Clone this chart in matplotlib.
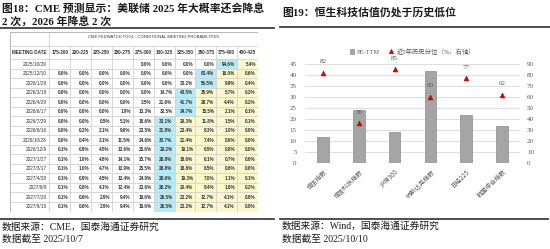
import numpy as np
import matplotlib
matplotlib.use('Agg')
import matplotlib.pyplot as plt
from matplotlib.patches import Rectangle
from matplotlib.lines import Line2D

plt.rcParams['font.family'] = ['Liberation Serif', 'Noto Sans CJK SC', 'DejaVu Sans']

# ---- left: CME FedWatch table ----
meeting_dates = ['2025/10/29', '2025/12/10', '2026/1/28', '2026/3/18', '2026/4/29', '2026/6/17',
                 '2026/7/29', '2026/9/16', '2026/10/28', '2026/12/9', '2027/1/27', '2027/3/17',
                 '2027/4/28', '2027/6/9', '2027/7/28', '2027/9/15']
rate_ranges = ['175-200', '200-225', '225-250', '250-275', '275-300',
               '300-325', '325-350', '350-375', '375-400', '400-425']
probs = [
    [None, None, None, None, 0.0, 0.0, 0.0, 0.0, 94.6, 5.4],
    [0.0, 0.0, 0.0, 0.0, 0.0, 0.0, 0.0, 83.4, 16.0, 0.6],
    [0.0, 0.0, 0.0, 0.0, 0.0, 0.0, 33.2, 56.5, 9.9, 0.4],
    [0.0, 0.0, 0.0, 0.0, 0.0, 14.7, 43.5, 35.9, 5.7, 0.2],
    [0.0, 0.0, 0.0, 0.0, 3.5, 21.6, 41.7, 28.7, 4.4, 0.2],
    [0.0, 0.0, 0.0, 1.9, 13.3, 32.5, 34.7, 15.5, 2.1, 0.1],
    [0.0, 0.0, 0.5, 5.1, 18.6, 33.1, 29.3, 11.8, 1.5, 0.1],
    [0.0, 0.2, 2.1, 9.6, 23.5, 31.8, 23.4, 8.3, 1.0, 0.0],
    [0.0, 0.4, 3.1, 11.5, 24.6, 30.7, 21.4, 7.4, 0.9, 0.0],
    [0.1, 0.9, 4.5, 13.6, 25.6, 29.2, 19.1, 6.5, 0.8, 0.0],
    [0.1, 1.0, 4.8, 14.1, 25.7, 28.8, 18.6, 6.1, 0.7, 0.0],
    [0.1, 1.0, 4.7, 13.9, 25.5, 28.8, 18.8, 6.5, 0.8, 0.0],
    [0.1, 0.9, 4.5, 13.4, 24.9, 28.6, 19.3, 7.0, 1.1, 0.1],
    [0.1, 0.8, 4.1, 12.4, 23.6, 28.2, 20.4, 8.4, 1.8, 0.2],
    [0.1, 0.6, 2.9, 9.4, 19.6, 26.5, 23.2, 12.7, 4.1, 0.8],
    [0.1, 0.6, 2.9, 9.4, 19.6, 26.5, 23.2, 12.7, 4.1, 0.8],
]

# ---- right: valuation chart ----
indices = ['恒生指数', '恒生科技指数', '沪深300', '纳斯达克指数', '日经225', '韩国综合指数']
pe_ttm = [12, 24, 14, 42, 22, 17]
pct_5y = [82, 36, 85, 60, 77, 62]

W, H = 550, 249
def fx(x): return x / W
def fy(y): return 1 - y / H

fig = plt.figure(figsize=(5.5, 2.49), dpi=100)
cjk = ['Liberation Serif', 'Noto Sans CJK SC']

# titles and rules
fig.text(fx(2), fy(8.5), '图18：CME 预测显示：美联储 2025 年大概率还会降息', fontsize=7.8, fontweight='bold',
         family=cjk, va='center', ha='left', color='#1a1a1a')
fig.text(fx(2), fy(21.5), '2 次，2026 年降息 2 次', fontsize=7.8, fontweight='bold',
         family=cjk, va='center', ha='left', color='#1a1a1a')
fig.text(fx(282), fy(13), '图19：恒生科技估值仍处于历史低位', fontsize=7.8, fontweight='bold',
         family=cjk, va='center', ha='left', color='#1a1a1a')
for (x0, x1, y) in [(0, 274, 28.5), (280, 550, 27), (0, 274, 219), (280, 548, 219)]:
    fig.add_artist(Line2D([fx(x0), fx(x1)], [fy(y), fy(y)], color='#404040', lw=1.3))
fig.text(fx(2), fy(227), '数据来源：CME，国泰海通证券研究', fontsize=7, family=cjk, va='center', color='#1a1a1a')
fig.text(fx(2), fy(239.5), '数据截至 2025/10/7', fontsize=7, family=cjk, va='center', color='#1a1a1a')
fig.text(fx(282), fy(226.5), '数据来源：Wind，国泰海通证券研究', fontsize=7, family=cjk, va='center', color='#1a1a1a')
fig.text(fx(282), fy(239), '数据截至 2025/10/10', fontsize=7, family=cjk, va='center', color='#1a1a1a')

# table
ax_t = fig.add_axes([fx(10), fy(211.5), 248 / W, 179.8 / H])
ncol = len(rate_ranges)
nrow = len(meeting_dates)
date_w = 1.89
ax_t.set_xlim(-date_w, ncol)
ax_t.set_ylim(nrow, -2.9)
ax_t.axis('off')
grid_c = '#d0d0d0'
txt_c = '#333333'
blue = '#b5eaf6'
yellow = '#fbf8cb'
tf = 'Liberation Sans'

ax_t.add_patch(Rectangle((-date_w, -2.9), date_w, 1.5, fc='white', ec=grid_c, lw=0.5))
ax_t.add_patch(Rectangle((0, -2.9), ncol, 1.5, fc='white', ec=grid_c, lw=0.5))
ax_t.text(ncol / 2, -2.35, 'CME FEDWATCH TOOL - CONDITIONAL MEETING PROBABILITIES', ha='center', va='center',
          fontsize=3.0, family=tf, color=txt_c)
ax_t.add_patch(Rectangle((-date_w, -1.4), date_w, 1.4, fc='white', ec=grid_c, lw=0.5))
ax_t.text(-date_w / 2, -0.7, 'MEETING DATE', ha='center', va='center', fontsize=3.3, family=tf,
          fontweight='bold', color=txt_c)
for c, lab in enumerate(rate_ranges):
    ax_t.add_patch(Rectangle((c, -1.4), 1, 1.4, fc='white', ec=grid_c, lw=0.5))
    ax_t.text(c + 0.5, -0.7, lab, ha='center', va='center', fontsize=3.3, family=tf,
              fontweight='bold', color=txt_c)

for r, (d, row) in enumerate(zip(meeting_dates, probs)):
    vals = [v if v is not None else -1 for v in row]
    top = int(np.argmax(vals))
    ax_t.add_patch(Rectangle((-date_w, r), date_w, 1, fc='white', ec=grid_c, lw=0.5))
    ax_t.text(-0.12, r + 0.5, d, ha='right', va='center', fontsize=3.4, family=tf, color=txt_c)
    for c, v in enumerate(row):
        if c == top:
            fc = blue
        elif c > top:
            fc = yellow
        else:
            fc = 'white'
        ax_t.add_patch(Rectangle((c, r), 1, 1, fc=fc, ec=grid_c, lw=0.5))
        if v is not None:
            ax_t.text(c + 0.9, r + 0.5, f'{v:.1f}%', ha='right', va='center', fontsize=3.3,
                      family=tf, fontweight='bold', color=txt_c)
ax_t.add_patch(Rectangle((-date_w, -2.9), date_w + ncol, nrow + 2.9, fc='none', ec='#b0b0b0', lw=0.6))

# chart
ax = fig.add_axes([fx(305), fy(163), 215 / W, 99 / H])
x = np.arange(len(indices))
bars = ax.bar(x, pe_ttm, width=0.33, color='#a5a5a5', edgecolor='#8c8c8c', lw=0.5, zorder=2, label='PE-TTM')
ax.set_ylim(0, 45)
ax.set_yticks(range(0, 46, 5))
ax.set_xlim(-0.5, len(indices) - 0.5)
ax.grid(axis='y', color='#d9d9d9', lw=0.6, zorder=0)
ax.set_axisbelow(True)
ax.set_xticks(x)
ax.set_xticklabels(indices, rotation=45, ha='right', rotation_mode='anchor', fontsize=4.5,
                   family=['Noto Sans CJK SC'], color='#595959')
ax.tick_params(axis='y', length=0, labelsize=5, colors='#595959', pad=6)
ax.tick_params(axis='x', length=0, colors='#595959', pad=3)

ax2 = ax.twinx()
ax2.set_ylim(0, 90)
ax2.set_yticks(range(0, 91, 10))
ax2.tick_params(axis='y', length=0, labelsize=5, colors='#595959', pad=5)
tri, = ax2.plot(x, pct_5y, ls='none', marker='^', ms=3.5, mfc='#e00000', mec='#b00000', mew=0.4,
                label='近5年历史分位（%，右轴）', zorder=3)
for xi, v in zip(x, pct_5y):
    ax2.annotate(str(v), (xi, v), xytext=(0, 8), textcoords='offset points', ha='center', va='center',
                 fontsize=5, color='#595959')
for a in (ax, ax2):
    for s in a.spines.values():
        s.set_visible(False)

ax2.legend(handles=[bars, tri], loc='lower center', bbox_to_anchor=(0.5, 1.07), ncol=2, frameon=False,
           prop={'family': cjk, 'size': 4.6}, handlelength=0.7, handleheight=0.7, handletextpad=0.5,
           columnspacing=1.4, labelcolor='#595959', borderaxespad=0, markerscale=0.9)

fig.savefig('out.png', dpi=100)
